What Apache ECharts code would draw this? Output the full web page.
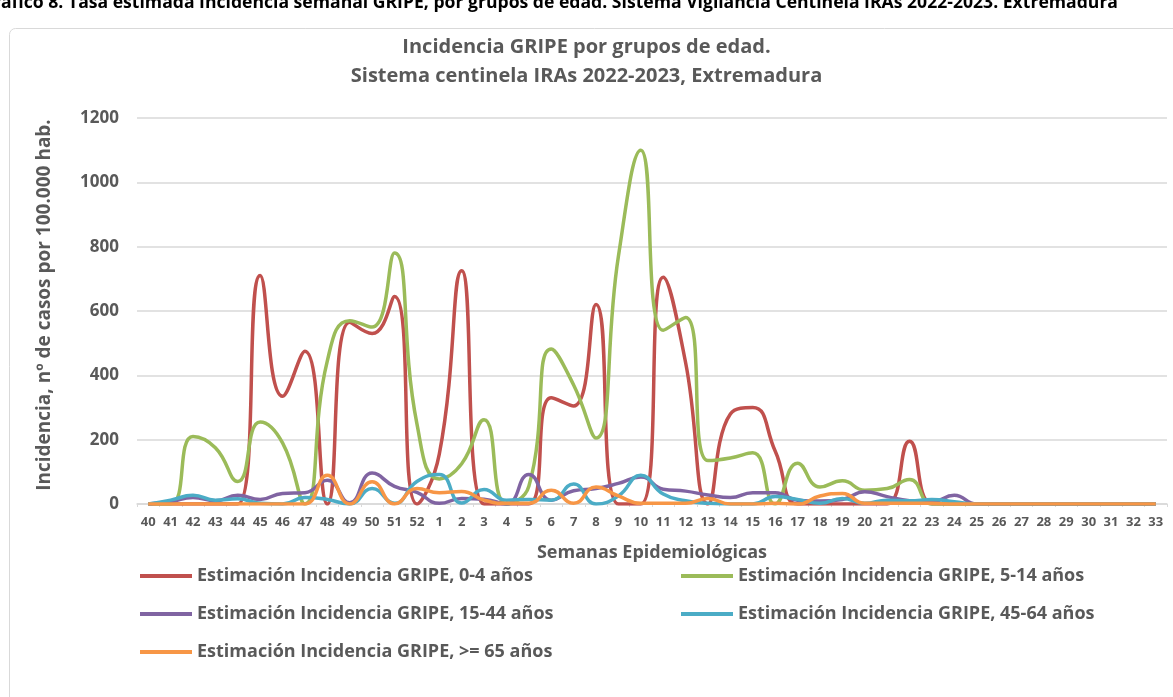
<!DOCTYPE html>
<html><head><meta charset="utf-8">
<script src="https://cdn.jsdelivr.net/npm/echarts@6/dist/echarts.min.js"></script>
<style>html,body{margin:0;padding:0;background:#fff}#c{width:1173px;height:697px}</style>
</head><body><div id="c"></div>
<script>
const weeks = ['40','41','42','43','44','45','46','47','48','49','50','51','52','1','2','3','4','5','6','7','8','9','10','11','12','13','14','15','16','17','18','19','20','21','22','23','24','25','26','27','28','29','30','31','32','33'];
const yTicks = [0,200,400,600,800,1000,1200];
const age0_4 =   [0,0,0,0,0,710,335,475,0,565,530,645,0,155,725,0,0,0,330,305,620,0,0,705,440,0,280,300,165,0,0,0,0,0,195,0,0,0,0,0,0,0,0,0,0,0];
const age5_14 =  [0,0,210,175,70,255,190,0,445,570,550,780,250,78,125,262,0,55,482,370,205,770,1100,540,580,135,143,159,0,127,53,72,43,48,76,0,0,0,0,0,0,0,0,0,0,0];
const age15_44 = [0,7,20,10,27,14,33,35,74,4,96,55,36,2,17,15,0,92,12,41,48,64,84,46,40,28,20,35,35,12,9,14,38,23,10,7,27,0,0,0,0,0,0,0,0,0];
const age45_64 = [0,12,27,12,16,2,0,20,14,0,48,2,70,92,3,45,12,14,12,62,0,25,89,31,10,2,0,0,23,14,2,17,2,12,10,14,7,0,0,0,0,0,0,0,0,0];
const age65 =    [0,0,0,0,0,0,0,0,89,0,69,0,48,35,39,12,2,2,43,2,53,25,2,2,2,17,0,0,2,0,25,33,2,2,2,2,0,0,0,0,0,0,0,0,0,0];
const seriesNames = ['Estimación Incidencia GRIPE, 0-4 años','Estimación Incidencia GRIPE, 5-14 años','Estimación Incidencia GRIPE, 15-44 años','Estimación Incidencia GRIPE, 45-64 años','Estimación Incidencia GRIPE, >= 65 años'];
const seriesData = [age0_4, age5_14, age15_44, age45_64, age65];
const colors = ['#C0504D','#9BBB59','#8064A2','#4BACC6','#F79646'];

const FONT = '"Open Sans", Lato, sans-serif';
const GREY = '#595959';
const chart = echarts.init(document.getElementById('c'), null, {renderer:'canvas'});
const legendPos = [[135,562],[676,562],[135,600],[676,600],[135,638]];
chart.setOption({
  animation:false,
  color: colors,
  title: {
    text: 'Incidencia GRIPE por grupos de edad.\nSistema centinela IRAs 2022-2023, Extremadura',
    left: 'center', top: 28,
    textStyle: {fontFamily: FONT, fontSize: 20, fontWeight: 'bold', color: GREY, lineHeight: 29}
  },
  graphic: [
    {type:'rect', shape:{x:9.5, y:28.5, width:1180, height:700, r:6}, style:{fill:'none', stroke:'#d9d9d9', lineWidth:1}, z:-10},
    {type:'text', style:{text:'Gráfico 8. Tasa estimada Incidencia semanal GRIPE, por grupos de edad. Sistema Vigilancia Centinela IRAs 2022-2023. Extremadura', x:1118, y:12, textAlign:'right', textVerticalAlign:'bottom', font:'bold 17.6px '+FONT, fill:'#000'}}
  ],
  legend: seriesNames.map((n,i)=>({
    data:[n], left: legendPos[i][0], top: legendPos[i][1],
    icon:'rect', itemWidth:52, itemHeight:4, itemGap:7,
    textStyle:{fontFamily:FONT, fontSize:18, fontWeight:'bold', color:GREY}
  })),
  grid: {left:137, right:6, top:118, bottom:193},
  xAxis: {
    type:'category', data: weeks, boundaryGap:true,
    name:'Semanas Epidemiológicas', nameLocation:'middle', nameGap:40,
    nameTextStyle:{fontFamily:FONT, fontSize:18, fontWeight:'bold', color:GREY},
    axisLine:{show:true, lineStyle:{color:'#d9d9d9', width:1.5}},
    axisTick:{show:true, length:3, lineStyle:{color:'#d9d9d9'}},
    axisLabel:{fontFamily:FONT, fontSize:13, fontWeight:'bold', color:GREY, margin:12, interval:0}
  },
  yAxis: {
    type:'value', min:yTicks[0], max:yTicks[yTicks.length-1], interval:200,
    name:'Incidencia, nº de casos por 100.000 hab.', nameLocation:'middle', nameGap:83,
    nameTextStyle:{fontFamily:FONT, fontSize:19, fontWeight:'bold', color:GREY, padding:[0,0,0,12]},
    axisLine:{show:false}, axisTick:{show:false},
    axisLabel:{fontFamily:FONT, fontSize:17, fontWeight:'bold', color:GREY, margin:18, formatter: v => String(v)},
    splitLine:{lineStyle:{color:'#d9d9d9', width:1.5}}
  },
  series: seriesNames.map((n,i)=>({
    name:n, type:'line', data: seriesData[i], smooth:0.5, symbol:'none',
    lineStyle:{width:3.5, color:colors[i]}, itemStyle:{color:colors[i]}
  }))
});
</script>
</body></html>
